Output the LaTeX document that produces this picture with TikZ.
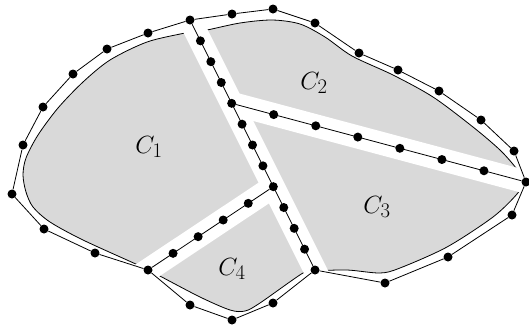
\documentclass[tikz,border=0pt]{standalone}
\usetikzlibrary{calc}
\begin{document}
\begin{tikzpicture}[x=1pt,y=-1pt,
  dot/.style={circle,fill=black,inner sep=0pt,minimum size=9pt},
  edge/.style={line width=0.8pt},
  cut/.style={white,line width=23pt},
  region/.style={fill=black!15,draw=black,line width=0.8pt},
  lbl/.style={font=\Huge}]
\useasboundingbox (0,0) rectangle (529,325);
% gray area with its outline
\draw[region] plot[smooth cycle, tension=0.5] coordinates {
 (196,31) (207,30) (240,23) (272,20) (300,24) (325,37) (352,56) (393,75)
 (433,97) (473,127) (500,150) (516,168) (524,181) (517,194) (493,217)
 (447,247) (400,268) (380,273) (347,270) (315,271) (303,273) (260,303)
 (245,311) (230,310) (200,297) (158,275) (148,270) (138,265) (83,240)
 (50,222) (33,207) (26,192) (23,175) (26,158) (38,135) (58,108) (83,82)
 (110,60) (147,42) (185,33)};
% outer polygon corners
\coordinate (P1) at (190,20);
\coordinate (P2) at (232,14);
\coordinate (P3) at (273,9);
\coordinate (P4) at (315,23);
\coordinate (P5) at (359,53);
\coordinate (P6) at (398,70);
\coordinate (P7) at (439,91);
\coordinate (P8) at (481,120);
\coordinate (P9) at (514,151);
\coordinate (P10) at (526,182);
\coordinate (P11) at (512,215);
\coordinate (P12) at (448,257);
\coordinate (P13) at (385,283);
\coordinate (P14) at (315,270);
\coordinate (P15) at (273,303);
\coordinate (P16) at (232,320);
\coordinate (P17) at (190,305);
\coordinate (P18) at (148,270);
\coordinate (P19) at (95,253);
\coordinate (P20) at (44,229);
\coordinate (P21) at (12,194);
\coordinate (P22) at (23,145);
\coordinate (P23) at (43,107);
\coordinate (P24) at (73,74);
\coordinate (P25) at (107,49);
\coordinate (P26) at (148,33);
\coordinate (J1) at ($(P1)!4/12!(P14)$);
\coordinate (J2) at ($(P1)!8/12!(P14)$);
% white cuts
\draw[cut, shorten <=-4pt, shorten >=-12pt] (P1) -- (P14);
\draw[cut, shorten >=-12pt] (J1) -- (P10);
\draw[cut, shorten >=-12pt] (J2) -- (P18);
% dots
\foreach \i in {1,...,26} \node[dot] (p\i) at (P\i) {};
\foreach \i in {1,...,11} \node[dot] (a\i) at ($(P1)!\i/12!(P14)$) {};
\foreach \i in {1,...,6} \node[dot] (b\i) at ($(J1)!\i/7!(P10)$) {};
\foreach \i in {1,...,4} \node[dot] (c\i) at ($(J2)!\i/5!(P18)$) {};
% connectors
\draw[edge] (p1) -- (p2) -- (p3) -- (p4) -- (p5) -- (p6) -- (p7) -- (p8)
  -- (p9) -- (p10) -- (p11) -- (p12) -- (p13) -- (p14) -- (p15) -- (p16)
  -- (p17) -- (p18) -- (p19) -- (p20) -- (p21) -- (p22) -- (p23) -- (p24)
  -- (p25) -- (p26) -- (p1);
\draw[edge] (p1) -- (p14);
\draw[edge] (a4) -- (p10);
\draw[edge] (a8) -- (p18);
% labels
\node[lbl] (l1) at (149,147) {$C_1$};
\node[lbl] (l2) at (314,83) {$C_2$};
\node[lbl] (l3) at (377,207) {$C_3$};
\node[lbl] (l4) at (232,269) {$C_4$};
\end{tikzpicture}
\end{document}
